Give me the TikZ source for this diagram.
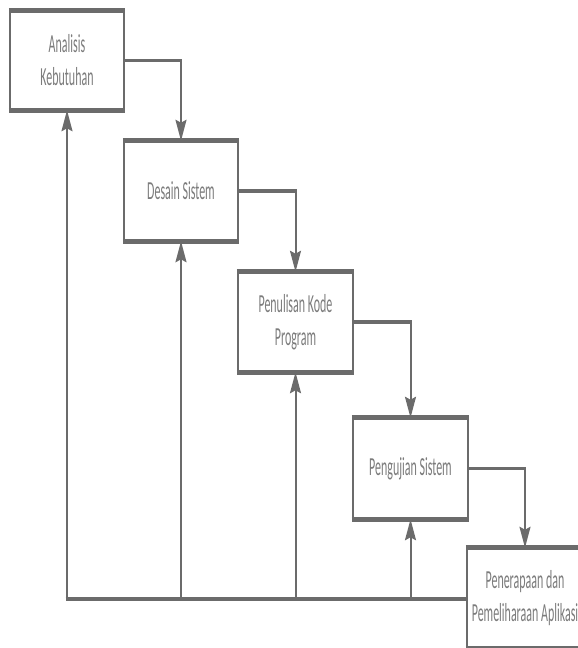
\documentclass[tikz,border=0pt]{standalone}
\usepackage{fontspec}
\setmainfont{Carlito}
\usetikzlibrary{arrows.meta}
\definecolor{lc}{HTML}{6B6B6B}
\definecolor{tc}{HTML}{7C7C7C}
\newcommand{\sq}[1]{\scalebox{0.46}[1]{#1}}
\tikzset{
  stagebox/.style={draw=lc, line width=2.5pt, fill=white, inner sep=0pt,
    text=tc, align=center, font=\fontsize{26}{33}\selectfont},
  thickedge/.style={draw=lc, line width=5pt},
  hline/.style={draw=lc, line width=3.2pt},
  vline/.style={draw=lc, line width=2pt},
  up/.style={vline, -{Stealth[length=21pt,width=11pt,inset=3pt]}},
}
\begin{document}
\begin{tikzpicture}[x=1pt,y=-1pt]
\useasboundingbox[fill=white] (0,0) rectangle (578,648);
\node[stagebox, minimum width=114pt, minimum height=97pt] (b1) at (67,60.5) {\sq{Analisis}\\\sq{Kebutuhan}};
\node[stagebox, minimum width=114pt, minimum height=98pt] (b2) at (181,191) {\sq{Desain Sistem}};
\node[stagebox, minimum width=115pt, minimum height=98pt] (b3) at (295.5,322) {\sq{Penulisan Kode}\\\sq{Program}};
\node[stagebox, minimum width=115pt, minimum height=99pt] (b4) at (410.5,468.5) {\sq{Pengujian Sistem}};
\node[stagebox, minimum width=116pt, minimum height=98pt] (b5) at (525,598) {\sq{Penerapaan dan}\\\sq{Pemeliharaan Aplikasi}};
\foreach \b in {b1,b2,b3,b4,b5}{
  \draw[thickedge] (\b.north west) -- (\b.north east);
  \draw[thickedge] (\b.south west) -- (\b.south east);
}
% forward connectors
\foreach \a/\b in {b1/b2,b2/b3,b3/b4,b4/b5}{
  \coordinate (c\a) at (\a.east -| \b.north);
  \draw[hline] (\a.east) -- ([xshift=1pt]c\a);
  \draw[up] (c\a) -- (\b.north);
}
% feedback line
\coordinate (bl) at (67,599);
\draw[hline] ([xshift=-1.5pt]bl) -- (bl -| b5.west);
\draw[up] (bl) -- (b1.south);
\draw[up] (bl -| b2.south) -- (b2.south);
\draw[up] (bl -| b3.south) -- (b3.south);
\draw[up] (bl -| b4.south) -- (b4.south);
\end{tikzpicture}
\end{document}
